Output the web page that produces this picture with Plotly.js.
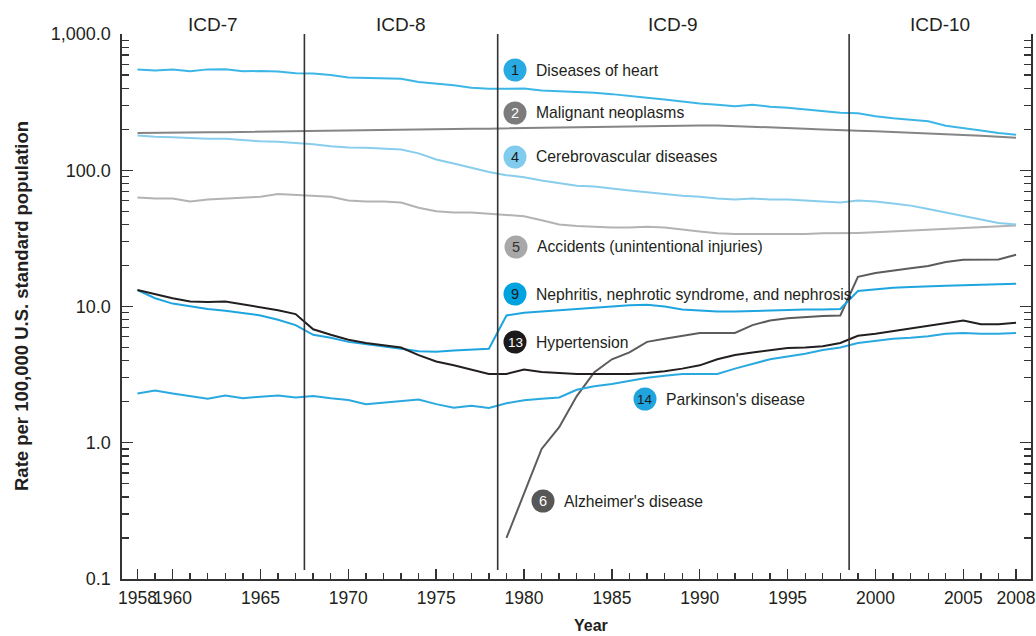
<!DOCTYPE html>
<html>
<head>
<meta charset="utf-8">
<script src="https://cdn.plot.ly/plotly-3.0.1.min.js"></script>
<style>html,body{margin:0;padding:0;background:#fff;}#chart{width:1036px;height:636px;}</style>
</head>
<body>
<div id="chart"></div>
<script>
// ---------- DATA ----------
const years = [1958,1959,1960,1961,1962,1963,1964,1965,1966,1967,1968,1969,1970,1971,1972,1973,1974,1975,1976,1977,1978,1979,1980,1981,1982,1983,1984,1985,1986,1987,1988,1989,1990,1991,1992,1993,1994,1995,1996,1997,1998,1999,2000,2001,2002,2003,2004,2005,2006,2007,2008];
const alzYears = [1979,1980,1981,1982,1983,1984,1985,1986,1987,1988,1989,1990,1991,1992,1993,1994,1995,1996,1997,1998,1999,2000,2001,2002,2003,2004,2005,2006,2007,2008];

const heart = [548,540,548,532,550,552,532,535,530,515,513,500,480,477,475,470,445,435,420,403,396,396,398,385,380,377,370,362,349,340,330,318,309,302,295,303,292,287,279,270,264,262,249,241,236,229,212,205,196,188,182];
const cancer = [188,189,189,189,190,190,191,191,192,192,193,194,195,196,197,198,199,200,201,202,202,203,204,205,206,207,208,209,210,211,212,213,213,213,211,210,207,205,202,199,196,195,193,191,189,187,184,182,179,176,173];
const stroke = [180,176,175,172,170,170,166,163,162,159,155,150,147,146,144,142,133,120,112,104,97,92,89,84,80,77,76,73,71,69,67,65,64,62,61,62,61,61,60,59,58,60,59,57,55,52,49,46,43,41,40];
const accidents = [63,62,62,59,61,62,63,64,67,66,65,64,60,59,59,58,53,50,49,49,48,47,46,43,40,39,38.5,38,38,38.5,38,36.5,35.5,34.5,34,34,34,34,34,34.5,34.5,34.7,35,35.5,36,36.5,37,38,38.5,39,39.3];
const alzheimer = [0.2,0.43,0.9,1.3,2.2,3.3,4.1,4.6,5.5,5.8,6.1,6.4,6.4,6.4,7.3,7.9,8.2,8.4,8.5,8.6,16.5,17.6,18.4,19.1,19.8,21.2,22.0,22.0,22.1,24.0];
const nephritis = [13.2,11.5,10.5,10.0,9.6,9.3,9.0,8.6,8.0,7.3,6.2,5.9,5.5,5.3,5.15,4.9,4.7,4.65,4.75,4.85,4.9,8.6,9.0,9.2,9.4,9.6,9.8,10.0,10.2,10.3,10.0,9.5,9.3,9.2,9.2,9.3,9.3,9.4,9.5,9.5,9.6,13.0,13.4,13.7,13.9,14.1,14.2,14.3,14.4,14.6,14.7];
const hypertension = [13.2,12.3,11.5,10.9,10.8,10.9,10.4,9.9,9.4,8.8,6.8,6.2,5.7,5.4,5.2,5.0,4.4,3.95,3.7,3.45,3.2,3.2,3.45,3.3,3.25,3.2,3.2,3.2,3.2,3.25,3.35,3.5,3.7,4.1,4.4,4.6,4.8,4.95,5.0,5.1,5.4,6.1,6.3,6.6,6.9,7.2,7.6,7.9,7.4,7.4,7.6];
const parkinson = [2.3,2.42,2.3,2.2,2.1,2.22,2.12,2.18,2.22,2.15,2.2,2.12,2.06,1.92,1.98,2.02,2.08,1.92,1.81,1.87,1.8,1.95,2.05,2.1,2.15,2.45,2.6,2.7,2.85,3.0,3.1,3.2,3.2,3.2,3.5,3.8,4.1,4.3,4.5,4.8,5.0,5.4,5.6,5.8,5.9,6.05,6.3,6.4,6.3,6.3,6.4];

const xTickVals = [1958,1960,1965,1970,1975,1980,1985,1990,1995,2000,2005,2008];
const yTickVals = [0.1,1,10,100,1000];
const yTickText = ["0.1","1.0","10.0","100.0","1,000.0"];
const icdNames = ["ICD-7","ICD-8","ICD-9","ICD-10"];
const icdBreaks = [1967.5,1978.5,1998.5];

const labelNums = ["1","2","4","5","9","13","14","6"];
const labelNames = ["Diseases of heart","Malignant neoplasms","Cerebrovascular diseases","Accidents (unintentional injuries)","Nephritis, nephrotic syndrome, and nephrosis","Hypertension","Parkinson's disease","Alzheimer's disease"];

// ---------- STYLE / LAYOUT ----------
const FONT = "Liberation Sans, Arial, Helvetica, sans-serif";
const INK = "#231f20";
const L = 122, R = 1031, T = 34, B = 579, W = 1036, H = 636;
const px = x => (x - L) / (R - L);
const py = y => (B - y) / (B - T);

function line(x, y, color, name) {
  return {x: x, y: y, type: "scatter", mode: "lines", name: name,
          line: {color: color, width: 2}, hoverinfo: "skip", cliponaxis: false};
}
const traces = [
  line(years, cancer, "#858585", "Malignant neoplasms"),
  line(years, accidents, "#b3b3b3", "Accidents"),
  line(years, stroke, "#88cdec", "Cerebrovascular diseases"),
  line(years, heart, "#3cb6e6", "Diseases of heart"),
  line(alzYears, alzheimer, "#5c5c5c", "Alzheimer's disease"),
  line(years, nephritis, "#1ea5df", "Nephritis"),
  line(years, parkinson, "#2aa9e0", "Parkinson's disease"),
  line(years, hypertension, "#231f20", "Hypertension")
];

// label badge positions (pixels) and colours
const badgePos = [[515,70],[515,113],[515,157],[516,247],[515,294],[515,342],[645,399],[543,501]];
const badgeFill = ["#2aaae2","#7b7b7b","#80cbee","#a8a8a8","#00a2df","#1c1a1b","#1fa4de","#575757"];
const badgeInk = ["#1a1a1a","#ffffff","#1a1a1a","#333333","#1a1a1a","#ffffff","#1a1a1a","#ffffff"];

const shapes = [];
const annotations = [];

icdBreaks.forEach(b => shapes.push({type: "line", xref: "x", yref: "paper", x0: b, x1: b,
  y0: py(570), y1: 1, line: {color: "#333333", width: 1.6}, layer: "above"}));

const xr = [1957.12, 2008.85];
const regionBounds = [xr[0]].concat(icdBreaks).concat([xr[1]]);
icdNames.forEach((n, i) => annotations.push({
  text: n, xref: "x", yref: "paper", x: (regionBounds[i] + regionBounds[i+1]) / 2, y: py(24),
  showarrow: false, xanchor: "center", yanchor: "middle",
  font: {family: FONT, size: 19, color: INK}}));

labelNums.forEach((num, i) => {
  const [cx, cy] = badgePos[i];
  shapes.push({type: "circle", xref: "paper", yref: "paper", xsizemode: "pixel", ysizemode: "pixel",
    xanchor: px(cx), yanchor: py(cy), x0: -11.5, x1: 11.5, y0: -11.5, y1: 11.5,
    fillcolor: badgeFill[i], line: {width: 0}, layer: "above"});
  annotations.push({text: num, xref: "paper", yref: "paper", x: px(cx), y: py(cy),
    showarrow: false, xanchor: "center", yanchor: "middle",
    font: {family: FONT, size: num.length > 1 ? 13.5 : 14.5, color: badgeInk[i]}});
  annotations.push({text: labelNames[i], xref: "paper", yref: "paper", x: px(cx + 18.5), y: py(cy),
    showarrow: false, xanchor: "left", yanchor: "middle",
    font: {family: FONT, size: 15.7, color: INK}});
});

// axis titles as positioned text
annotations.push({text: "<b>Year</b>", xref: "paper", yref: "paper", x: px(591), y: py(625),
  showarrow: false, xanchor: "center", yanchor: "middle",
  font: {family: FONT, size: 16, color: INK}});
annotations.push({text: "<b>Rate per 100,000 U.S. standard population</b>", xref: "paper", yref: "paper",
  x: px(21), y: py(306), textangle: -90, showarrow: false, xanchor: "center", yanchor: "middle",
  font: {family: FONT, size: 18.5, color: INK}});

const layout = {
  width: W, height: H,
  margin: {l: L, r: W - R, t: T, b: H - B, pad: 0},
  paper_bgcolor: "#ffffff", plot_bgcolor: "#ffffff",
  showlegend: false,
  font: {family: FONT, color: INK},
  xaxis: {
    range: xr, showgrid: false, zeroline: false, automargin: false,
    showline: true, linecolor: "#333333", linewidth: 1.6,
    tickmode: "array", tickvals: xTickVals, ticktext: xTickVals.map(String), tickangle: 0,
    ticks: "inside", ticklen: 10, tickwidth: 1.4, tickcolor: "#333333",
    tickfont: {family: FONT, size: 17.5, color: INK},
    ticklabelstandoff: 2,
    minor: {tickmode: "linear", tick0: 1958, dtick: 1, ticks: "inside", ticklen: 6, tickwidth: 1.4, tickcolor: "#333333", showgrid: false}
  },
  yaxis: {
    type: "log", range: [-1, 3], showgrid: false, zeroline: false, automargin: false,
    showline: true, linecolor: "#333333", linewidth: 1.6, mirror: "ticks",
    tickmode: "array", tickvals: yTickVals, ticktext: yTickText,
    ticks: "inside", ticklen: 11, tickwidth: 1.4, tickcolor: "#333333",
    tickfont: {family: FONT, size: 18, color: INK},
    ticklabelstandoff: 6,
    minor: {tickmode: "array",
      tickvals: [0.2,0.3,0.4,0.5,0.6,0.7,0.8,0.9,2,3,4,5,6,7,8,9,20,30,40,50,60,70,80,90,200,300,400,500,600,700,800,900],
      ticks: "inside", ticklen: 7, tickwidth: 1.4, tickcolor: "#333333", showgrid: false}
  },
  shapes: shapes,
  annotations: annotations
};

Plotly.newPlot("chart", traces, layout, {displayModeBar: false, staticPlot: true});
</script>
</body>
</html>
